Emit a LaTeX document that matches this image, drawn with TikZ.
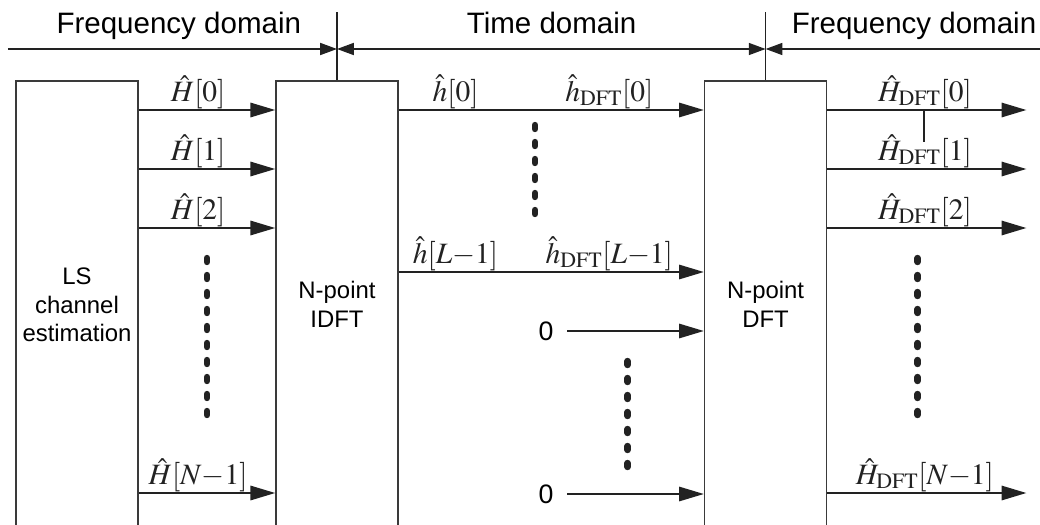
\documentclass[tikz,border=0pt]{standalone}
\usepackage{mathptmx}
\usepackage{fontspec}
\setmainfont{Liberation Serif}
\setsansfont{Liberation Sans}
\usepackage{tikz}
\usetikzlibrary{positioning, arrows.meta, calc}
\definecolor{wirecol}{HTML}{222222}
\definecolor{boxcol}{HTML}{3A3A3A}
\tikzset{
  blk/.style={
    draw=boxcol, line width=1.1pt, anchor=north,
    minimum width=3.05cm, minimum height=11.2cm,
    align=center, font=\sffamily\fontsize{17}{20.6}\selectfont
  },
  sig/.style={
    -{Triangle[length=0.62cm, width=0.36cm]},
    line width=1.3pt, color=wirecol
  },
  hdr/.style={line width=1.1pt, color=wirecol},
  hdrtip/.tip={Triangle[length=0.42cm, width=0.3cm]},
  lbl/.style={anchor=base, yshift=0.22cm, inner sep=0pt,
    font=\fontsize{21}{24}\selectfont},
  dotcol/.style={line width=0.17cm, line cap=round, color=wirecol,
    dash pattern=on 0.09cm off 0.335cm}
}

\begin{document}
\begin{tikzpicture}[
  domlbl/.style={anchor=base, font=\sffamily\fontsize{21}{24}\selectfont},
  zero/.style={inner sep=1pt, font=\sffamily\fontsize{19}{22}\selectfont}]
  \useasboundingbox (0,0) rectangle (26,-13.1);

  % Blocks
  \node[blk] (ls)   at (1.925,-2)  {LS\\channel\\estimation};
  \node[blk] (idft) at (8.425,-2)  {N-point\\IDFT};
  \node[blk] (dft)  at (19.14,-2)  {N-point\\DFT};

  % Domain bar
  \draw[hdr] (idft.north) -- ++(0,1.7);
  \draw[hdr] (dft.north) -- ++(0,1.7);
  \coordinate (hl) at (0.2,-1.225);
  \coordinate (hr) at (26.1,-1.225);
  \coordinate (m1) at (idft.north |- hl);
  \coordinate (m2) at (dft.north |- hl);
  \draw[hdr, -hdrtip] (hl) -- (m1);
  \draw[hdr, hdrtip-hdrtip] (m1) -- (m2);
  \draw[hdr, -hdrtip] (hr) -- (m2);
  \node[domlbl] (fd1) at (4.47,-0.825) {Frequency domain};
  \node[domlbl] (td)  at (13.79,-0.825) {Time domain};
  \node[domlbl] (fd2) at (22.85,-0.825) {Frequency domain};

  % LS estimates into IDFT
  \foreach \dy/\lab in {0.75/{\hat{H}[0]}, 2.225/{\hat{H}[1]}, 3.7/{\hat{H}[2]}, 10.325/{\hat{H}[N{-}1]}}
    \draw[sig] ([yshift=-\dy cm]ls.north east) -- ([yshift=-\dy cm]idft.north west)
      node[lbl, pos=0.435] {$\lab$};
  \draw[dotcol] (5.175,-6.455) -- ++(0,-3.915);

  % Time domain taps
  \draw[sig] ([yshift=-0.75cm]idft.north east) -- ([yshift=-0.75cm]dft.north west)
    node[lbl, pos=0.186] {$\hat{h}[0]$}
    node[lbl, pos=0.69] {$\hat{h}_{\mathrm{DFT}}[0]$};
  \draw[sig] ([yshift=-4.8cm]idft.north east) -- ([yshift=-4.8cm]dft.north west)
    node[lbl, pos=0.186] {$\hat{h}[L{-}1]$}
    node[lbl, pos=0.69] {$\hat{h}_{\mathrm{DFT}}[L{-}1]$};
  \draw[dotcol] (13.375,-3.13) -- ++(0,-2.215);

  % Zero padding
  \node[zero] (z1) at (13.65,-8.275) {0};
  \node[zero] (z2) at (13.65,-12.35) {0};
  \draw[sig] ([xshift=0.3cm]z1.east) -- (z1 -| dft.west);
  \draw[sig] ([xshift=0.3cm]z2.east) -- (z2 -| dft.west);
  \draw[dotcol] (15.69,-9.03) -- ++(0,-2.64);

  % DFT outputs
  \foreach \dy/\lab in {0.75/{\hat{H}_{\mathrm{DFT}}[0]}, 2.225/{\hat{H}_{\mathrm{DFT}}[1]}, 3.7/{\hat{H}_{\mathrm{DFT}}[2]}, 10.325/{\hat{H}_{\mathrm{DFT}}[N{-}1]}}
    \draw[sig] ([yshift=-\dy cm]dft.north east) -- ++(4.975,0)
      node[lbl, pos=0.49] {$\lab$};
  \draw[hdr] ([xshift=2.42cm, yshift=-0.75cm]dft.north east) -- ++(0,-0.8);
  \draw[dotcol] (22.94,-6.455) -- ++(0,-3.915);

\end{tikzpicture}
\end{document}
